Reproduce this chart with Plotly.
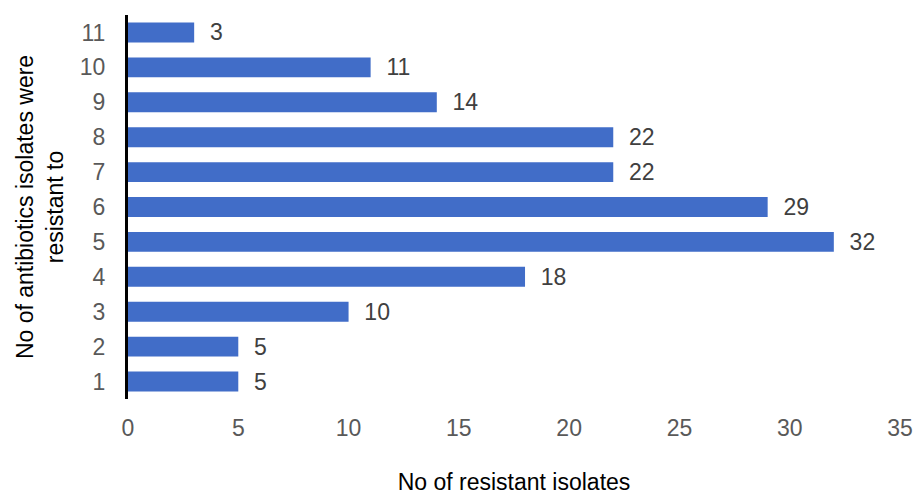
import plotly.graph_objects as go

categories = ["1", "2", "3", "4", "5", "6", "7", "8", "9", "10", "11"]
values = [5, 5, 10, 18, 32, 29, 22, 22, 14, 11, 3]
x_ticks = [0, 5, 10, 15, 20, 25, 30, 35]

FONT = "Liberation Sans, Arial"

fig = go.Figure()
fig.add_trace(go.Bar(
    y=categories, x=values, orientation="h",
    marker=dict(color="#416DC8", line=dict(width=0)),
    width=0.57,
    text=values, texttemplate="  %{x}", textposition="outside",
    constraintext="none",
    textfont=dict(family=FONT, size=23, color="#404040"),
    cliponaxis=False,
))
fig.update_layout(
    width=913, height=495,
    margin=dict(l=128, r=13, t=15, b=96),
    paper_bgcolor="white", plot_bgcolor="white",
    showlegend=False,
    font=dict(family=FONT, size=23, color="#595959"),
    xaxis=dict(range=[0, 35], tickvals=x_ticks, showgrid=False, zeroline=False,
               showline=False, ticks="", ticklabelstandoff=13, automargin=False,
               tickfont=dict(family=FONT, size=23, color="#595959"),
               title=dict(text="No of resistant isolates", standoff=40,
                          font=dict(family=FONT, size=23, color="#000000"))),
    yaxis=dict(type="category", categoryorder="array", categoryarray=categories,
               range=[-0.5, 10.5], showgrid=False, zeroline=False,
               showline=True, linecolor="#000000", linewidth=3, ticks="",
               ticklabelstandoff=15, automargin=False,
               tickfont=dict(family=FONT, size=23, color="#595959"),
               title=dict(text="No of antibiotics isolates were<br>resistant to", standoff=10,
                          font=dict(family=FONT, size=23, color="#000000"))),
    bargap=0.43,
)
fig.write_html(
    "out.html",
    config={"displayModeBar": False},
    post_script="document.body.style.margin='0';document.body.style.overflow='hidden';",
)
